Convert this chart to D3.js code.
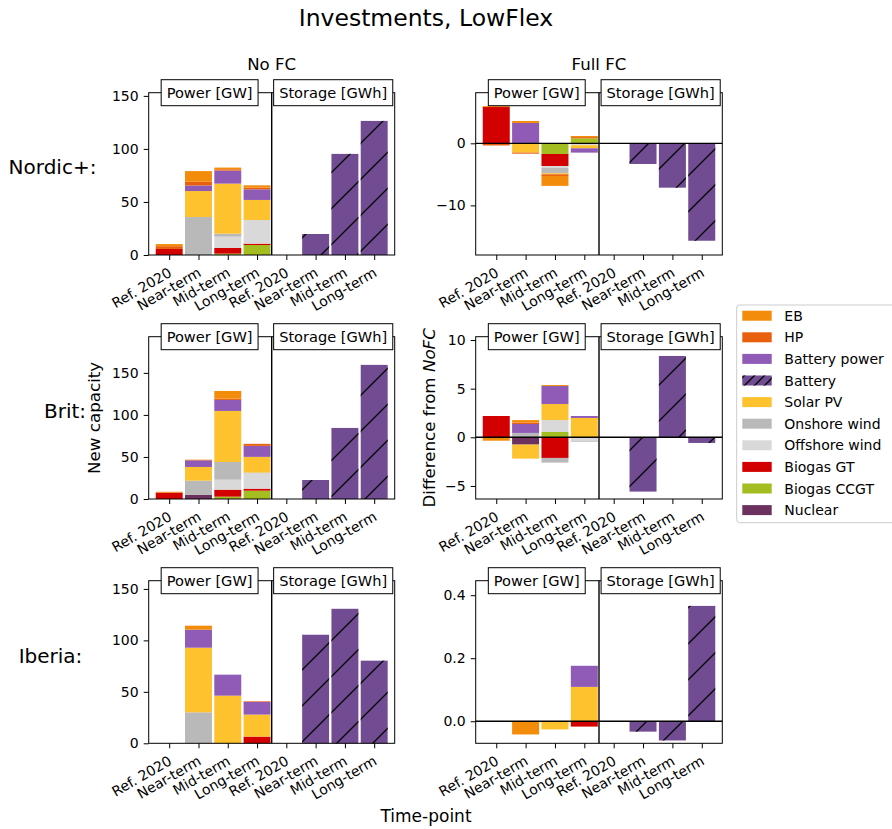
<!DOCTYPE html>
<html><head><meta charset="utf-8">
<script src="https://cdn.jsdelivr.net/npm/d3@7"></script>
<style>body{margin:0;background:#fff} text{font-family:"DejaVu Sans",sans-serif;fill:#000}</style>
</head><body><svg id="c" width="892" height="829"></svg>
<script>
// ---------- DATA ----------
const categories = ["Ref. 2020", "Near-term", "Mid-term", "Long-term"];
const regions = ["Nordic+:", "Brit:", "Iberia:"];
const scenarios = ["No FC", "Full FC"];
// stacking order bottom-up
const stackOrder = ["Nuclear", "Biogas CCGT", "Biogas GT", "Offshore wind", "Onshore wind", "Solar PV", "Battery power", "HP", "EB"];
const legendOrder = ["EB", "HP", "Battery power", "Battery", "Solar PV", "Onshore wind", "Offshore wind", "Biogas GT", "Biogas CCGT", "Nuclear"];

const nordicNoFC = {
  "Biogas CCGT": [0, 0, 1.3, 9.4],
  "Biogas GT": [5.7, 0, 5.3, 1.3],
  "Offshore wind": [0, 0, 10.7, 22.3],
  "Onshore wind": [0, 35.8, 2.8, 0],
  "Solar PV": [0, 24.5, 47.2, 18.9],
  "Battery power": [0, 5.3, 12.3, 10.0],
  "HP": [2.6, 3.5, 1.2, 1.6],
  "EB": [2.0, 10.0, 1.6, 2.2]
};
const nordicNoFCStorage = [0, 19.8, 95.3, 126.4];

const nordicFullFC = {
  "Biogas CCGT": [0, 0, -1.72, 0.8],
  "Biogas GT": [5.85, 0, -1.94, 0],
  "Offshore wind": [0, 0, -0.27, -0.3],
  "Onshore wind": [0, 0, -0.9, 0],
  "Solar PV": [0, -1.5, -0.16, -0.5],
  "Battery power": [0, 3.28, 0, -0.7],
  "HP": [-0.35, -0.17, -0.27, 0.2],
  "EB": [0.15, 0.32, -1.6, 0.18]
};
const nordicFullFCStorage = [0, -3.33, -7.15, -15.7];

const britNoFC = {
  "Nuclear": [0, 4.8, 0, 0],
  "Biogas CCGT": [0, 0, 2.8, 9.9],
  "Biogas GT": [7.6, 0, 8.3, 2.4],
  "Offshore wind": [0, 0, 11.9, 18.3],
  "Onshore wind": [0, 17.0, 21.0, 0.8],
  "Solar PV": [0, 16.3, 60.7, 18.7],
  "Battery power": [0, 7.9, 13.1, 13.1],
  "HP": [0, 0.4, 1.6, 2.4],
  "EB": [1.0, 0.4, 9.1, 0]
};
const britNoFCStorage = [0, 22.6, 84.5, 159.5];

const britFullFC = {
  "Nuclear": [0, -0.75, 0, 0],
  "Biogas CCGT": [0, 0, 0.55, 0],
  "Biogas GT": [2.19, 0, -2.12, 0],
  "Offshore wind": [0, 0, 1.23, -0.35],
  "Onshore wind": [0, 0.45, -0.48, -0.1],
  "Solar PV": [0, -1.44, 1.64, 1.99],
  "Battery power": [0, 0.92, 1.85, 0.2],
  "HP": [0, 0.15, 0, 0],
  "EB": [-0.35, 0.25, 0.1, 0]
};
const britFullFCStorage = [0, -5.58, 8.36, -0.58];

const iberiaNoFC = {
  "Biogas GT": [0, 0, 0, 6.5],
  "Onshore wind": [0, 30.1, 0, 0],
  "Solar PV": [0, 62.8, 46.3, 21.4],
  "Battery power": [0, 17.5, 20.4, 12.3],
  "HP": [0, 0, 0, 0.6],
  "EB": [0, 3.9, 0, 0]
};
const iberiaNoFCStorage = [0, 105.5, 130.7, 80.3];

const iberiaFullFC = {
  "Biogas GT": [0, 0, 0, -0.017],
  "Solar PV": [0, 0, -0.026, 0.109],
  "Battery power": [0, 0, 0, 0.067],
  "EB": [0, -0.042, 0, 0]
};
const iberiaFullFCStorage = [0, -0.033, -0.061, 0.366];

const yDomains = [[0, 153], [-18.0, 8.16], [0, 193], [-6.34, 10.34], [0, 158], [-0.07, 0.446]];
const yTicks = [[0, 50, 100, 150], [-10, 0], [0, 50, 100, 150], [-5, 0, 5, 10], [0, 50, 100, 150], [0, 0.2, 0.4]];

// ---------- STYLE ----------
const colors = {
  "EB": "#f48c0b", "HP": "#e8600d", "Battery power": "#8f5bb6", "Battery": "#714c93",
  "Solar PV": "#fdc22e", "Onshore wind": "#b9b9b9", "Offshore wind": "#d9d9d9",
  "Biogas GT": "#d30000", "Biogas CCGT": "#a4bd21", "Nuclear": "#6c315f"
};

const svg = d3.select("#c");
const defs = svg.append("defs");
function hatch(id, s) {
  const p = defs.append("pattern").attr("id", id).attr("patternUnits", "userSpaceOnUse")
    .attr("width", s).attr("height", s);
  p.append("path").attr("d", `M${-s/4},${s/4} L${s/4},${-s/4} M0,${s} L${s},0 M${s*0.75},${s*1.25} L${s*1.25},${s*0.75}`)
    .attr("stroke", "#000").attr("stroke-width", 1.3);
}
hatch("hatchBig", 36);
hatch("hatchSmall", 10);

const panels = [
  {power: nordicNoFC, storage: nordicNoFCStorage},
  {power: nordicFullFC, storage: nordicFullFCStorage},
  {power: britNoFC, storage: britNoFCStorage},
  {power: britFullFC, storage: britFullFCStorage},
  {power: iberiaNoFC, storage: iberiaNoFCStorage},
  {power: iberiaFullFC, storage: iberiaFullFCStorage}
];
const colX = [[148.7, 394.7], [475.7, 722.3]];
const rowY = [[92.7, 255], [336.7, 499], [580.7, 743.3]];
const rowLabelX = [52.5, 65, 50.5];

panels.forEach((p, k) => {
  const r = Math.floor(k / 2), c = k % 2;
  const [x0, x1] = colX[c], [y0, y1] = rowY[r];
  const g = svg.append("g");
  const x = d3.scaleLinear().domain([-0.7, 7.7]).range([x0, x1]);
  const y = d3.scaleLinear().domain(yDomains[k]).range([y1, y0]);
  const bw = x(0.92) - x(0);

  categories.forEach((cat, i) => {
    let pos = 0, neg = 0;
    stackOrder.forEach(t => {
      const arr = p.power[t];
      if (!arr || !arr[i]) return;
      const v = arr[i];
      let a, b;
      if (v > 0) { a = pos; b = pos + v; pos = b; } else { a = neg; b = neg + v; neg = b; }
      g.append("rect").attr("x", x(i) - bw / 2).attr("width", bw)
        .attr("y", y(Math.max(a, b))).attr("height", Math.abs(y(a) - y(b)))
        .attr("fill", colors[t]);
    });
  });
  p.storage.forEach((v, i) => {
    if (!v) return;
    const xi = x(4 + i) - bw / 2, yy = y(Math.max(0, v)), hh = Math.abs(y(v) - y(0));
    g.append("rect").attr("x", xi).attr("width", bw).attr("y", yy).attr("height", hh).attr("fill", colors["Battery"]);
    g.append("rect").attr("x", xi).attr("width", bw).attr("y", yy).attr("height", hh).attr("fill", "url(#hatchBig)");
  });

  if (c === 1) {
    g.append("line").attr("x1", x0).attr("x2", x1).attr("y1", y(0)).attr("y2", y(0))
      .attr("stroke", "#000").attr("stroke-width", 1.4);
  }
  // divider
  g.append("line").attr("x1", x(3.5)).attr("x2", x(3.5)).attr("y1", y0).attr("y2", y1)
    .attr("stroke", "#000").attr("stroke-width", 1.4);
  // frame
  g.append("rect").attr("x", x0).attr("y", y0).attr("width", x1 - x0).attr("height", y1 - y0)
    .attr("fill", "none").attr("stroke", "#000").attr("stroke-width", 1);

  // y axis
  const fmt = k === 5 ? d3.format(".1f") : d3.format("d");
  const ya = g.append("g").attr("transform", `translate(${x0},0)`)
    .call(d3.axisLeft(y).tickValues(yTicks[k]).tickSize(5).tickPadding(5).tickFormat(fmt));
  ya.select(".domain").remove();
  ya.selectAll("text").attr("font-size", 14).attr("font-family", "DejaVu Sans").attr("fill", "#000");
  ya.selectAll("line").attr("stroke", "#000");

  // x axis ticks
  const xa = g.append("g").attr("transform", `translate(0,${y1})`)
    .call(d3.axisBottom(x).tickValues(d3.range(8)).tickSize(5).tickFormat(""));
  xa.select(".domain").remove();
  xa.selectAll("line").attr("stroke", "#000");
  d3.range(8).forEach(i => {
    g.append("text").attr("transform", `translate(${x(i) + 3.5},${y1 + 20.5}) rotate(-30)`)
      .attr("text-anchor", "end").attr("font-size", 14).text(categories[i % 4]);
  });

  // label boxes
  [["Power [GW]", 1.38], ["Storage [GWh]", 5.6]].forEach(([lab, xv]) => {
    const bg = g.append("g");
    const rect = bg.append("rect");
    const t = bg.append("text").attr("x", x(xv)).attr("y", y0).attr("dy", "0.36em")
      .attr("text-anchor", "middle").attr("font-size", 14.6).text(lab);
    const bb = t.node().getBBox();
    rect.attr("x", bb.x - 5.5).attr("width", bb.width + 11).attr("y", y0 - 13).attr("height", 26)
      .attr("fill", "#fff").attr("stroke", "#000").attr("stroke-width", 1);
  });
});

// titles
svg.append("text").attr("x", 426).attr("y", 26).attr("text-anchor", "middle").attr("font-size", 23.5).text("Investments, LowFlex");
scenarios.forEach((s, c) => {
  svg.append("text").attr("x", (colX[c][0] + colX[c][1]) / 2).attr("y", 70).attr("text-anchor", "middle")
    .attr("font-size", 16.6).text(s);
});
regions.forEach((s, r) => {
  svg.append("text").attr("x", rowLabelX[r]).attr("y", (rowY[r][0] + rowY[r][1]) / 2 + 0.5).attr("text-anchor", "middle")
    .attr("font-size", 20).text(s);
});
svg.append("text").attr("transform", `translate(99.5,${(rowY[1][0] + rowY[1][1]) / 2}) rotate(-90)`)
  .attr("text-anchor", "middle").attr("font-size", 16.7).text("New capacity");
const dl = svg.append("text").attr("transform", `translate(435,${(rowY[1][0] + rowY[1][1]) / 2}) rotate(-90)`)
  .attr("text-anchor", "middle").attr("font-size", 16.7);
dl.append("tspan").text("Difference from ");
dl.append("tspan").attr("font-style", "italic").text("NoFC");
svg.append("text").attr("x", 426).attr("y", 821.7).attr("text-anchor", "middle").attr("font-size", 17).text("Time-point");

// legend
const lg = svg.append("g");
lg.append("rect").attr("x", 736.7).attr("y", 305).attr("width", 170).attr("height", 217.7).attr("rx", 3)
  .attr("fill", "#fff").attr("stroke", "#cccccc").attr("stroke-width", 1);
legendOrder.forEach((t, i) => {
  const cy = 315.7 + i * 21.6;
  lg.append("rect").attr("x", 742.3).attr("y", cy - 5).attr("width", 29.4).attr("height", 10).attr("fill", colors[t]);
  if (t === "Battery") {
    lg.append("rect").attr("x", 742.3).attr("y", cy - 5).attr("width", 29.4).attr("height", 10).attr("fill", "url(#hatchSmall)");
  }
  lg.append("text").attr("x", 784.3).attr("y", cy + 5).attr("font-size", 14).text(t);
});
</script></body></html>
